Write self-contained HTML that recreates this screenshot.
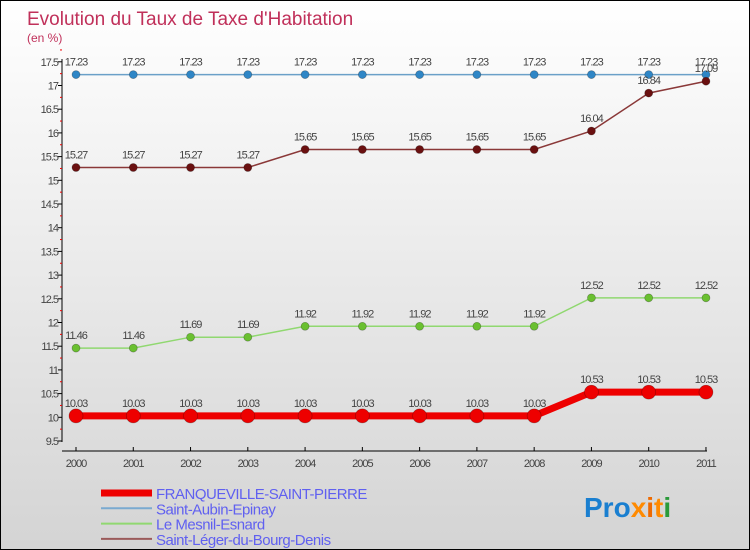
<!DOCTYPE html>
<html><head><meta charset="utf-8"><style>
body{margin:0}
#c{width:750px;height:550px;position:relative;box-sizing:border-box;border:1px solid #000;background:linear-gradient(#ffffff,#d4d4d4);font-family:"Liberation Sans",sans-serif;overflow:hidden}
svg text{font-family:"Liberation Sans",sans-serif}
</style></head><body>
<div id="c">
<svg width="750" height="550" id="s">
<text x="26" y="24" font-size="19" fill="#c0305a">Evolution du Taux de Taxe d'Habitation</text>
<text x="26" y="41" font-size="12" fill="#c0305a">(en %)</text>
<g id="axes"></g><g id="series"></g><g id="legend"></g>
<text x="583" y="516" font-size="28" font-weight="bold"><tspan fill="#1a7fd0">Pro</tspan><tspan fill="#ff8a00">x</tspan><tspan fill="#ee6a00">i</tspan><tspan fill="#ff8a00">t</tspan><tspan fill="#2a9a3a">i</tspan></text>
</svg></div>
<script>
const years=[2000,2001,2002,2003,2004,2005,2006,2007,2008,2009,2010,2011];
const yTicks=[9.5,10,10.5,11,11.5,12,12.5,13,13.5,14,14.5,15,15.5,16,16.5,17,17.5];
const franq=[10.03,10.03,10.03,10.03,10.03,10.03,10.03,10.03,10.03,10.53,10.53,10.53];
const aubin=[17.23,17.23,17.23,17.23,17.23,17.23,17.23,17.23,17.23,17.23,17.23,17.23];
const mesnil=[11.46,11.46,11.69,11.69,11.92,11.92,11.92,11.92,11.92,12.52,12.52,12.52];
const leger=[15.27,15.27,15.27,15.27,15.65,15.65,15.65,15.65,15.65,16.04,16.84,17.09];
const names=["FRANQUEVILLE-SAINT-PIERRE","Saint-Aubin-Epinay","Le Mesnil-Esnard","Saint-Léger-du-Bourg-Denis"];
const NS="http://www.w3.org/2000/svg";
const X=i=>75+i*57.27, Y=v=>440-(v-9.5)*47.4;
function mk(t,a,p){const e=document.createElementNS(NS,t);for(const k in a)e.setAttribute(k,a[k]);p.appendChild(e);return e;}
const ax=document.getElementById('axes'),se=document.getElementById('series'),lg=document.getElementById('legend');
let l=mk('line',{x1:61,y1:58,x2:61,y2:441,stroke:'#000'},ax);


yTicks.forEach(v=>{
 mk('line',{x1:57,x2:61,y1:Y(v),y2:Y(v),stroke:'#000'},ax);
 mk('line',{x1:59,x2:61,y1:Y(v+0.25),y2:Y(v+0.25),stroke:'#e00'},ax);
 const t=mk('text',{x:57,y:Y(v)+4,'font-size':11,'text-anchor':'end',fill:'#444','letter-spacing':'-1'},ax);t.textContent=v;
 
 
});
l=mk('line',{x1:61,y1:450,x2:706,y2:450,stroke:'#000'},ax);


years.forEach((y,i)=>{
 mk('line',{x1:X(i),x2:X(i),y1:446,y2:450,stroke:'#000'},ax);
 const t=mk('text',{x:X(i),y:466,'font-size':11,'text-anchor':'middle',fill:'#444','letter-spacing':'-1'},ax);t.textContent=y;
 
 
});
const S=[[aubin,'#6aa0c8','#2f86c6',1.5,4,'saint-aubin'],[leger,'#8a3838','#6a1010',1.5,4,'saint-leger'],[mesnil,'#90d870','#6ac030',1.5,4,'le-mesnil'],[franq,'#ee0000','#ee0000',7,7,'franqueville']];
S.forEach(([d,lc,pc,w,r,n])=>{
 const p=mk('polyline',{points:d.map((v,i)=>X(i)+','+Y(v)).join(' '),fill:'none',stroke:lc,'stroke-width':w},se);
 
 
 d.forEach((v,i)=>{
  const c=mk('circle',{cx:X(i),cy:Y(v),r:r,fill:pc,stroke:'rgba(0,0,0,0.3)','stroke-width':0.7},se);
  
  
  const t=mk('text',{x:X(i),y:Y(v)-9,'font-size':11,'text-anchor':'middle',fill:'#444','letter-spacing':'-1'},se);t.textContent=v;
  
  
 });
});
const lcs=[['#ee0000',7],['#7aaad0',2],['#90d870',2],['#9a5a5a',2]];
names.forEach((n,i)=>{
 const y=492+i*15.3;
 const ln=mk('line',{x1:100,x2:151,y1:y,y2:y,stroke:lcs[i][0],'stroke-width':lcs[i][1]},lg);
 
 
 const t=mk('text',{x:155,y:y+6,'font-size':15,fill:'#6060f0','letter-spacing':'-0.5'},lg);t.textContent=n;
 
 
});
</script>
</body></html>
